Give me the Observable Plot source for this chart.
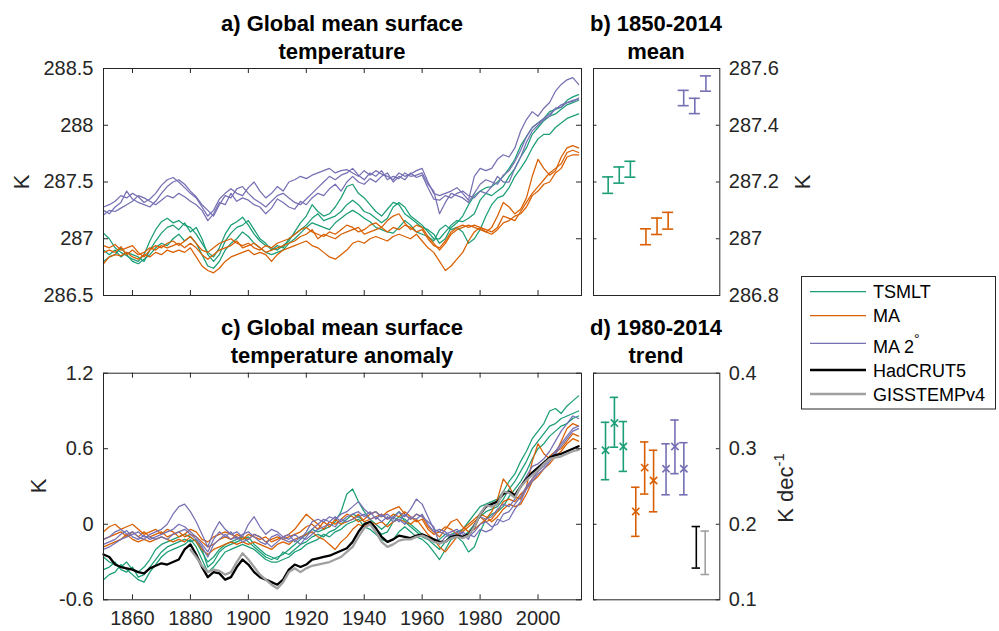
<!DOCTYPE html>
<html>
<head>
<meta charset="utf-8">
<script src="https://cdn.jsdelivr.net/npm/d3@7"></script>
<script src="https://cdn.jsdelivr.net/npm/@observablehq/plot@0.6"></script>
<style>
  body { margin: 0; background: #fff; }
  #root { position: relative; width: 999px; height: 631px; overflow: hidden; background: #fff; }
  .panel { position: absolute; }
  .panel svg { display: block; }
</style>
</head>
<body>
<div id="root"></div>
<script>
// ---------------- DATA ----------------
const years = [
  1850,1852,1854,1856,1858,1860,1862,1864,1866,1868,
  1870,1872,1874,1876,1878,1880,1882,1884,1886,1888,
  1890,1892,1894,1896,1898,1900,1902,1904,1906,1908,
  1910,1912,1914,1916,1918,1920,1922,1924,1926,1928,
  1930,1932,1934,1936,1938,1940,1942,1944,1946,1948,
  1950,1952,1954,1956,1958,1960,1962,1964,1966,1968,
  1970,1972,1974,1976,1978,1980,1982,1984,1986,1988,
  1990,1992,1994,1996,1998,2000,2002,2004,2006,2008,
  2010,2012,2014];

const models = ["TSMLT", "MA", "MA 2°"];
const observations = ["HadCRUT5", "GISSTEMPv4"];
const xTicks = [1860, 1880, 1900, 1920, 1940, 1960, 1980, 2000];
const yTicksA = [286.5, 287, 287.5, 288, 288.5];
const yTicksB = [286.8, 287, 287.2, 287.4, 287.6];
const yTicksC = [-0.6, 0, 0.6, 1.2];
const yTicksD = [0.1, 0.2, 0.3, 0.4];

// a) Global mean surface temperature (K), three members per configuration
const tsmltAbs1 = [
  287.05,287.00,286.92,286.88,286.85,286.82,286.80,286.86,286.98,287.08,
  287.15,287.18,287.14,287.16,287.12,287.10,287.04,286.96,286.88,286.84,
  286.92,287.04,287.12,287.15,287.19,287.12,287.04,286.98,286.94,286.92,
  286.90,286.94,286.98,287.06,287.14,287.20,287.30,287.24,287.20,287.22,
  287.28,287.36,287.46,287.48,287.40,287.36,287.30,287.24,287.20,287.26,
  287.32,287.30,287.22,287.18,287.14,287.10,287.08,287.04,286.96,287.00,
  287.10,287.14,287.20,287.30,287.38,287.42,287.45,287.46,287.50,287.55,
  287.62,287.70,287.82,287.90,287.98,288.02,288.06,288.12,288.14,288.16,
  288.22,288.25,288.27];
const tsmltAbs2 = [
  286.90,286.86,286.90,286.84,286.88,286.86,286.84,286.80,286.90,286.98,
  287.05,287.10,287.12,287.08,287.14,287.06,287.10,287.00,286.86,286.80,
  286.86,286.98,287.05,287.10,287.12,287.16,287.08,287.00,286.96,286.90,
  286.94,286.92,287.00,287.04,287.08,287.12,287.18,287.22,287.16,287.18,
  287.20,287.24,287.30,287.34,287.30,287.24,287.22,287.18,287.14,287.18,
  287.28,287.32,287.28,287.20,287.16,287.12,287.06,287.00,287.00,287.06,
  287.12,287.16,287.15,287.18,287.22,287.34,287.40,287.38,287.42,287.46,
  287.55,287.62,287.72,287.80,287.92,287.98,288.04,288.08,288.10,288.14,
  288.18,288.20,288.22];
const tsmltAbs3 = [
  286.80,286.84,286.86,286.92,286.86,286.80,286.78,286.82,286.86,286.92,
  286.96,286.94,287.00,287.04,286.98,287.02,286.96,286.86,286.76,286.74,
  286.80,286.90,286.96,287.00,287.06,287.02,286.96,286.92,286.88,286.86,
  286.88,286.90,286.96,287.00,287.05,287.10,287.14,287.12,287.10,287.08,
  287.14,287.18,287.22,287.25,287.22,287.18,287.15,287.10,287.08,287.06,
  287.05,287.10,287.16,287.12,287.06,287.04,287.02,286.98,287.08,287.12,
  287.08,287.10,287.06,286.96,287.00,287.08,287.20,287.30,287.36,287.38,
  287.45,287.55,287.62,287.70,287.80,287.88,287.92,287.92,287.98,288.02,
  288.06,288.08,288.10];
const maAbs1 = [
  286.94,286.92,286.95,286.90,286.92,286.94,286.88,286.84,286.90,286.94,
  286.92,286.96,286.98,286.94,286.98,287.02,286.96,286.90,286.88,286.92,
  286.96,286.98,287.00,286.96,286.94,286.96,286.92,286.90,286.94,286.92,
  286.96,286.98,287.00,287.04,287.08,287.10,287.06,287.04,287.02,287.06,
  287.04,287.08,287.12,287.10,287.06,287.08,287.12,287.14,287.10,287.16,
  287.20,287.22,287.14,287.08,287.12,287.10,287.02,286.96,286.90,286.96,
  287.04,287.08,287.10,287.12,287.10,287.08,287.06,287.10,287.20,287.32,
  287.28,287.22,287.26,287.36,287.55,287.70,287.62,287.56,287.60,287.72,
  287.80,287.82,287.80];
const maAbs2 = [
  286.88,286.90,286.88,286.93,286.86,286.90,286.86,286.88,286.92,286.90,
  286.94,286.92,286.94,286.96,286.92,286.96,286.92,286.86,286.82,286.86,
  286.90,286.92,286.94,286.98,286.92,286.94,286.96,286.92,286.88,286.90,
  286.92,286.94,286.96,286.98,287.02,287.04,287.08,287.00,287.04,287.02,
  287.00,287.04,287.06,287.08,287.10,287.04,287.06,287.08,287.10,287.06,
  287.10,287.08,287.12,287.10,287.06,287.08,287.00,286.94,286.92,286.98,
  287.06,287.10,287.12,287.10,287.12,287.10,287.08,287.06,287.10,287.20,
  287.18,287.16,287.24,287.32,287.40,287.46,287.52,287.58,287.62,287.66,
  287.76,287.78,287.76];
const maAbs3 = [
  286.78,286.84,286.86,286.85,286.88,286.84,286.82,286.86,286.84,286.88,
  286.86,286.90,286.88,286.90,286.88,286.92,286.84,286.76,286.72,286.70,
  286.74,286.80,286.84,286.86,286.88,286.90,286.86,286.88,286.86,286.80,
  286.86,286.90,286.92,286.94,286.96,286.98,286.94,286.92,286.88,286.84,
  286.82,286.86,286.90,286.96,286.98,286.96,287.00,287.02,287.00,286.98,
  287.02,287.04,287.02,287.00,287.04,286.98,286.92,286.88,286.80,286.72,
  286.76,286.82,286.88,286.98,287.06,287.10,287.06,287.04,287.08,287.14,
  287.16,287.20,287.22,287.28,287.38,287.42,287.48,287.50,287.58,287.62,
  287.72,287.74,287.74];
const ma2Abs1 = [
  287.28,287.30,287.33,287.38,287.36,287.40,287.37,287.32,287.35,287.40,
  287.47,287.52,287.54,287.50,287.45,287.40,287.36,287.28,287.20,287.25,
  287.35,287.40,287.44,287.40,287.38,287.45,287.50,287.42,287.36,287.40,
  287.46,287.42,287.50,287.52,287.55,287.53,287.56,287.58,287.60,287.62,
  287.58,287.60,287.61,287.58,287.55,287.60,287.56,287.60,287.57,287.55,
  287.52,287.58,287.55,287.57,287.60,287.62,287.50,287.40,287.38,287.40,
  287.42,287.45,287.40,287.34,287.55,287.62,287.60,287.62,287.70,287.74,
  287.72,287.80,287.95,288.05,288.12,288.08,288.15,288.20,288.30,288.36,
  288.40,288.42,288.36];
const ma2Abs2 = [
  287.25,287.22,287.28,287.32,287.42,287.35,287.32,287.30,287.28,287.33,
  287.40,287.46,287.50,287.52,287.48,287.42,287.37,287.30,287.25,287.20,
  287.30,287.38,287.36,287.44,287.46,287.40,287.35,287.32,287.28,287.33,
  287.38,287.40,287.36,287.32,287.30,287.35,287.40,287.45,287.50,287.55,
  287.52,287.56,287.58,287.62,287.56,287.52,287.58,287.55,287.60,287.52,
  287.55,287.53,287.58,287.55,287.56,287.58,287.48,287.42,287.22,287.32,
  287.40,287.38,287.36,287.32,287.40,287.48,287.52,287.50,287.48,287.56,
  287.60,287.68,287.78,287.90,287.98,288.02,288.06,288.10,288.14,288.18,
  288.20,288.22,288.23];
const ma2Abs3 = [
  287.21,287.25,287.24,287.27,287.30,287.33,287.38,287.36,287.33,287.30,
  287.34,287.38,287.36,287.40,287.37,287.33,287.30,287.25,287.16,287.22,
  287.32,287.30,287.40,287.33,287.36,287.34,287.30,287.28,287.22,287.27,
  287.35,287.32,287.28,287.26,287.33,287.30,287.36,287.40,287.38,287.44,
  287.48,287.42,287.50,287.55,287.50,287.48,287.53,287.50,287.55,287.58,
  287.50,287.55,287.52,287.58,287.54,287.56,287.45,287.35,287.34,287.38,
  287.36,287.40,287.42,287.38,287.36,287.42,287.40,287.46,287.55,287.50,
  287.50,287.62,287.72,287.85,287.95,288.00,288.05,288.08,288.15,288.16,
  288.20,288.21,288.24];

// c) Global mean surface temperature anomaly (K)
const tsmltAnom1 = [
  -0.26,-0.30,-0.32,-0.34,-0.30,-0.36,-0.38,-0.34,-0.28,-0.20,
  -0.16,-0.14,-0.12,-0.10,-0.08,-0.10,-0.14,-0.22,-0.30,-0.26,
  -0.20,-0.16,-0.14,-0.12,-0.10,-0.14,-0.18,-0.22,-0.26,-0.28,
  -0.26,-0.24,-0.20,-0.16,-0.12,-0.08,-0.04,-0.06,-0.04,-0.02,
  0.02,0.10,0.24,0.28,0.18,0.10,0.04,0.00,-0.04,0.00,
  0.06,0.10,0.02,-0.02,-0.06,-0.10,-0.12,-0.16,-0.20,-0.14,
  -0.08,-0.06,-0.04,0.02,0.08,0.14,0.16,0.18,0.20,0.26,
  0.34,0.40,0.50,0.58,0.68,0.74,0.80,0.90,0.92,0.88,
  0.94,0.98,1.02];
const tsmltAnom2 = [
  -0.36,-0.34,-0.30,-0.36,-0.38,-0.34,-0.42,-0.40,-0.34,-0.28,
  -0.22,-0.18,-0.16,-0.14,-0.12,-0.14,-0.12,-0.20,-0.34,-0.30,
  -0.22,-0.18,-0.16,-0.14,-0.12,-0.10,-0.16,-0.20,-0.24,-0.26,
  -0.28,-0.22,-0.24,-0.20,-0.16,-0.14,-0.10,-0.08,-0.10,-0.06,
  -0.04,0.00,0.04,0.08,0.06,0.02,0.00,-0.04,-0.08,-0.06,
  0.02,0.06,0.04,0.00,-0.04,-0.08,-0.10,-0.14,-0.12,-0.08,
  -0.10,-0.08,-0.10,-0.06,0.00,0.06,0.10,0.12,0.14,0.20,
  0.28,0.34,0.42,0.50,0.60,0.66,0.72,0.78,0.80,0.84,
  0.86,0.88,0.90];
const tsmltAnom3 = [
  -0.44,-0.40,-0.38,-0.32,-0.36,-0.40,-0.44,-0.46,-0.38,-0.32,
  -0.26,-0.22,-0.20,-0.18,-0.16,-0.12,-0.18,-0.28,-0.38,-0.34,
  -0.28,-0.22,-0.20,-0.18,-0.16,-0.18,-0.20,-0.24,-0.28,-0.30,
  -0.30,-0.28,-0.26,-0.22,-0.20,-0.16,-0.14,-0.12,-0.08,-0.10,
  -0.06,-0.04,0.00,0.02,0.04,-0.02,-0.04,-0.08,-0.12,-0.14,
  -0.12,-0.06,-0.02,-0.06,-0.10,-0.12,-0.16,-0.22,-0.28,-0.20,
  -0.12,-0.10,-0.14,-0.22,-0.18,-0.06,0.04,0.08,0.10,0.14,
  0.22,0.28,0.34,0.42,0.52,0.60,0.64,0.70,0.74,0.78,
  0.80,0.84,0.86];
const maAnom1 = [
  -0.06,-0.02,0.00,-0.04,-0.02,0.00,-0.04,-0.08,-0.06,-0.04,
  -0.08,-0.04,-0.06,-0.10,-0.08,-0.04,-0.06,-0.12,-0.14,-0.10,
  -0.08,-0.06,-0.08,-0.10,-0.12,-0.08,-0.10,-0.12,-0.10,-0.14,
  -0.12,-0.10,-0.08,-0.04,0.02,0.08,0.04,0.00,-0.04,0.02,
  0.00,0.04,0.08,0.06,0.02,0.04,0.08,0.10,0.06,0.10,
  0.12,0.14,0.08,0.04,0.08,0.06,-0.02,-0.06,-0.10,-0.04,
  0.02,0.04,-0.02,-0.06,-0.04,0.00,0.04,0.10,0.20,0.36,
  0.30,0.22,0.20,0.30,0.50,0.64,0.56,0.52,0.56,0.66,
  0.76,0.80,0.78];
const maAnom2 = [
  -0.12,-0.10,-0.08,-0.06,-0.10,-0.06,-0.10,-0.06,-0.10,-0.08,
  -0.06,-0.10,-0.08,-0.06,-0.10,-0.08,-0.10,-0.14,-0.18,-0.16,
  -0.12,-0.10,-0.12,-0.08,-0.10,-0.12,-0.08,-0.10,-0.14,-0.12,
  -0.10,-0.12,-0.10,-0.08,-0.06,-0.02,0.00,-0.04,0.02,-0.02,
  0.04,0.00,0.02,0.04,0.08,0.02,0.04,0.06,0.08,0.04,
  0.08,0.06,0.10,0.06,0.02,0.04,-0.04,-0.08,-0.06,-0.02,
  -0.04,-0.08,-0.06,-0.02,0.02,0.06,0.02,0.04,0.10,0.18,
  0.20,0.18,0.24,0.28,0.36,0.42,0.48,0.54,0.58,0.60,
  0.66,0.72,0.70];
const maAnom3 = [
  -0.18,-0.16,-0.14,-0.12,-0.08,-0.12,-0.14,-0.12,-0.14,-0.12,
  -0.10,-0.12,-0.14,-0.12,-0.14,-0.10,-0.14,-0.20,-0.24,-0.20,
  -0.18,-0.16,-0.14,-0.16,-0.14,-0.16,-0.14,-0.16,-0.18,-0.20,
  -0.16,-0.14,-0.16,-0.12,-0.10,-0.08,-0.06,-0.10,-0.12,-0.16,
  -0.20,-0.14,-0.10,-0.04,0.00,-0.02,0.02,0.00,0.02,-0.02,
  0.02,0.04,0.02,0.00,0.04,-0.02,-0.08,-0.12,-0.18,-0.22,
  -0.16,-0.10,-0.04,0.00,0.04,0.08,0.06,0.02,0.06,0.12,
  0.16,0.14,0.16,0.24,0.34,0.38,0.44,0.48,0.54,0.58,
  0.64,0.68,0.66];
const ma2Anom1 = [
  -0.12,-0.10,-0.06,-0.04,-0.08,-0.06,-0.10,-0.12,-0.08,-0.06,
  -0.04,0.00,0.08,0.14,0.16,0.10,0.02,-0.08,-0.18,-0.06,
  0.02,-0.04,-0.08,-0.06,-0.10,0.00,0.06,-0.02,-0.08,-0.04,
  -0.06,-0.10,-0.12,-0.08,-0.12,-0.06,0.02,0.04,0.02,0.06,
  0.04,0.08,0.10,0.14,0.18,0.12,0.08,0.10,0.06,0.08,
  0.04,0.10,0.06,0.12,0.20,0.16,0.06,-0.04,-0.06,-0.08,
  -0.06,-0.04,-0.08,-0.12,0.00,0.06,0.04,0.06,0.12,0.16,
  0.14,0.20,0.30,0.38,0.46,0.48,0.52,0.58,0.66,0.74,
  0.80,0.86,0.84];
const ma2Anom2 = [
  -0.16,-0.14,-0.12,-0.08,-0.05,-0.10,-0.12,-0.09,-0.12,-0.10,
  -0.08,-0.06,-0.04,0.00,-0.02,-0.06,-0.10,-0.16,-0.22,-0.12,
  -0.06,-0.10,-0.06,-0.12,-0.08,-0.06,-0.10,-0.14,-0.16,-0.10,
  -0.08,-0.12,-0.14,-0.12,-0.16,-0.10,-0.04,0.00,0.04,0.02,
  0.06,0.02,0.06,0.08,0.10,0.06,0.10,0.04,0.08,0.04,
  0.06,0.02,0.08,0.04,0.08,0.06,0.02,-0.02,-0.16,-0.10,
  -0.08,-0.10,-0.06,-0.10,-0.06,0.00,0.02,-0.02,0.00,0.08,
  0.10,0.16,0.22,0.30,0.36,0.42,0.46,0.52,0.58,0.64,
  0.70,0.76,0.78];
const ma2Anom3 = [
  -0.20,-0.18,-0.15,-0.12,-0.10,-0.08,-0.06,-0.10,-0.10,-0.12,
  -0.10,-0.12,-0.08,-0.06,-0.04,-0.08,-0.12,-0.18,-0.26,-0.16,
  -0.12,-0.08,-0.12,-0.10,-0.14,-0.12,-0.08,-0.10,-0.14,-0.18,
  -0.14,-0.10,-0.08,-0.14,-0.10,-0.12,-0.08,-0.04,-0.02,0.00,
  -0.02,0.04,0.02,0.04,0.06,0.08,0.04,0.06,0.02,0.06,
  0.02,0.04,0.00,0.06,0.04,0.08,0.00,-0.06,-0.04,-0.06,
  -0.10,-0.06,-0.10,-0.08,-0.10,-0.04,-0.06,-0.04,0.04,0.02,
  0.04,0.12,0.18,0.28,0.34,0.40,0.44,0.50,0.56,0.62,
  0.68,0.74,0.76];
const hadcrut5 = [
  -0.24,-0.26,-0.32,-0.34,-0.35,-0.36,-0.38,-0.39,-0.35,-0.33,
  -0.31,-0.32,-0.30,-0.28,-0.20,-0.16,-0.24,-0.34,-0.42,-0.38,
  -0.39,-0.44,-0.42,-0.34,-0.28,-0.32,-0.38,-0.42,-0.44,-0.46,
  -0.48,-0.44,-0.36,-0.32,-0.34,-0.32,-0.28,-0.27,-0.26,-0.25,
  -0.23,-0.21,-0.19,-0.14,-0.06,0.00,0.02,-0.03,-0.10,-0.14,
  -0.12,-0.09,-0.10,-0.11,-0.09,-0.08,-0.10,-0.12,-0.14,-0.14,
  -0.10,-0.09,-0.10,-0.08,-0.02,0.08,0.14,0.16,0.18,0.24,
  0.26,0.23,0.30,0.36,0.41,0.45,0.49,0.53,0.55,0.56,
  0.58,0.60,0.62];
const gisstempv4 = [
  null,null,null,null,null,null,null,null,null,null,
  null,null,null,null,null,-0.20,-0.26,-0.33,-0.38,-0.36,
  -0.37,-0.40,-0.38,-0.30,-0.23,-0.28,-0.34,-0.40,-0.44,-0.48,
  -0.51,-0.46,-0.38,-0.35,-0.38,-0.35,-0.33,-0.32,-0.31,-0.30,
  -0.28,-0.26,-0.22,-0.18,-0.10,-0.03,0.00,-0.06,-0.14,-0.18,
  -0.16,-0.13,-0.12,-0.12,-0.10,-0.09,-0.11,-0.14,-0.15,-0.14,
  -0.11,-0.10,-0.11,-0.09,-0.02,0.08,0.15,0.14,0.16,0.26,
  0.25,0.21,0.30,0.35,0.39,0.43,0.48,0.52,0.53,0.54,
  0.56,0.58,0.59];

// b) 1850-2014 mean (K): lower / upper end of each bar, members in model order
const meanLo = [287.160, 287.196, 287.217, 286.979, 287.015, 287.034, 287.469, 287.441, 287.520];
const meanHi = [287.218, 287.253, 287.273, 287.035, 287.073, 287.093, 287.523, 287.495, 287.574];

// d) 1980-2014 trend (K/decade)
const trendMid = [0.298, 0.334, 0.303, 0.217, 0.275, 0.258, 0.2735, 0.303, 0.2735];
const trendLo  = [0.259, 0.302, 0.270, 0.184, 0.240, 0.2165, 0.239, 0.267, 0.239];
const trendHi  = [0.335, 0.368, 0.336, 0.249, 0.309, 0.298, 0.3065, 0.338, 0.308];
const obsTrendLo = [0.142, 0.1335];
const obsTrendHi = [0.197, 0.191];

// ---------------- STYLE ----------------
const FONT = "'Liberation Sans', Arial, Helvetica, sans-serif";
const AX = "#262626";
const groupDomain = [...models, ...observations];
const groupRange = ["#1b9e77", "#d95f02", "#7570b3", "#000000", "#a0a0a0"];
const colorOf = Object.fromEntries(groupDomain.map((g, i) => [g, groupRange[i]]));
const groupGap = 3.4;

const absSeries = [
  ["TSMLT", tsmltAbs1], ["TSMLT", tsmltAbs2], ["TSMLT", tsmltAbs3],
  ["MA", maAbs1], ["MA", maAbs2], ["MA", maAbs3],
  ["MA 2°", ma2Abs1], ["MA 2°", ma2Abs2], ["MA 2°", ma2Abs3]
];
const anomSeries = [
  ["TSMLT", tsmltAnom1], ["TSMLT", tsmltAnom2], ["TSMLT", tsmltAnom3],
  ["MA", maAnom1], ["MA", maAnom2], ["MA", maAnom3],
  ["MA 2°", ma2Anom1], ["MA 2°", ma2Anom2], ["MA 2°", ma2Anom3]
];
function toRows(series) {
  return series.flatMap(([group, vals], k) =>
    years.map((year, i) => ({year, value: vals[i], series: group + k, group})));
}
const rowsA = toRows(absSeries);
const rowsC = toRows(anomSeries);
const rowsHad = years.map((year, i) => ({year, value: hadcrut5[i]}));
const rowsGiss = years.map((year, i) => ({year, value: gisstempv4[i]})).filter(d => d.value != null);

const colorScale = {domain: groupDomain, range: groupRange};
const svgStyle = {fontSize: "20px", fontFamily: FONT, color: AX, background: "transparent", overflow: "visible"};
const fmt = d => String(d);

function boxTicks(xDomain, yDomain, xT, yT, len) {
  const m = [];
  if (xT) {
    m.push(Plot.ruleX(xT, {x: d => d, y1: yDomain[0], y2: yDomain[0], insetTop: -len, stroke: AX}));
    m.push(Plot.ruleX(xT, {x: d => d, y1: yDomain[1], y2: yDomain[1], insetBottom: -len, stroke: AX}));
  }
  m.push(Plot.ruleY(yT, {y: d => d, x1: xDomain[0], x2: xDomain[0], insetRight: -len, stroke: AX}));
  m.push(Plot.ruleY(yT, {y: d => d, x1: xDomain[1], x2: xDomain[1], insetLeft: -len, stroke: AX}));
  return m;
}

const root = document.getElementById("root");
function place(node, left, top) {
  const div = document.createElement("div");
  div.className = "panel";
  div.style.left = left + "px";
  div.style.top = top + "px";
  div.appendChild(node);
  root.appendChild(div);
}

const xDomainT = [1850, 2015];

// Panel a
const yDomA = [286.5, 288.5];
place(Plot.plot({
  width: 600, height: 250,
  marginLeft: 103, marginRight: 19, marginTop: 8, marginBottom: 15,
  style: svgStyle,
  x: {domain: xDomainT, axis: null},
  y: {domain: yDomA},
  color: colorScale,
  marks: [
    Plot.line(rowsA, {x: "year", y: "value", z: "series", stroke: "group", strokeWidth: 1.25}),
    Plot.frame({stroke: AX, strokeWidth: 1}),
    ...boxTicks(xDomainT, yDomA, xTicks, yTicksA, 5),
    Plot.axisY({ticks: yTicksA, tickSize: 0, tickPadding: 10, tickFormat: fmt, label: null})
  ]
}), 0, 60);

// Panel c
const yDomC = [-0.6, 1.2];
place(Plot.plot({
  width: 600, height: 267,
  marginLeft: 103, marginRight: 19, marginTop: 8.7, marginBottom: 31.7,
  style: svgStyle,
  x: {domain: xDomainT},
  y: {domain: yDomC},
  color: colorScale,
  marks: [
    Plot.line(rowsC, {x: "year", y: "value", z: "series", stroke: "group", strokeWidth: 1.25}),
    Plot.line(rowsHad, {x: "year", y: "value", stroke: colorOf["HadCRUT5"], strokeWidth: 2.3}),
    Plot.line(rowsGiss, {x: "year", y: "value", stroke: colorOf["GISSTEMPv4"], strokeWidth: 2.3}),
    Plot.frame({stroke: AX, strokeWidth: 1}),
    ...boxTicks(xDomainT, yDomC, xTicks, yTicksC, 5),
    Plot.axisY({ticks: yTicksC, tickSize: 0, tickPadding: 10, tickFormat: fmt, label: null}),
    Plot.axisX({ticks: xTicks, tickSize: 0, tickPadding: 11, tickFormat: fmt, label: null})
  ]
}), 0, 364);

// Panel b
const memberPos = i => (i % 3) + Math.floor(i / 3) * groupGap;
const meanRows = meanLo.map((lo, i) => ({pos: memberPos(i), lo, hi: meanHi[i], group: models[Math.floor(i / 3)]}));
function errorBars(rows, cap) {
  return [
    Plot.ruleX(rows, {x: "pos", y1: "lo", y2: "hi", stroke: "group", strokeWidth: 1.6}),
    Plot.ruleY(rows, {y: "lo", x1: "pos", x2: "pos", insetLeft: -cap, insetRight: -cap, stroke: "group", strokeWidth: 1.6}),
    Plot.ruleY(rows, {y: "hi", x1: "pos", x2: "pos", insetLeft: -cap, insetRight: -cap, stroke: "group", strokeWidth: 1.6})
  ];
}
const xDomB = [-1.32, 10.05];
const yDomB = [286.8, 287.6];
place(Plot.plot({
  width: 215, height: 250,
  marginLeft: 13, marginRight: 75.7, marginTop: 8, marginBottom: 15,
  style: svgStyle,
  x: {domain: xDomB, axis: null},
  y: {domain: yDomB},
  color: colorScale,
  marks: [
    ...errorBars(meanRows, 5.5),
    Plot.frame({stroke: AX, strokeWidth: 1}),
    ...boxTicks(xDomB, yDomB, null, yTicksB, 3.5),
    Plot.axisY({anchor: "right", ticks: yTicksB, tickSize: 0, tickPadding: 9, tickFormat: fmt, label: null})
  ]
}), 580, 60);

// Panel d
const trendRows = trendMid.map((mid, i) => ({pos: memberPos(i), mid, lo: trendLo[i], hi: trendHi[i], group: models[Math.floor(i / 3)]}));
const obsRows = observations.map((name, j) => ({pos: 3 * groupGap + j, lo: obsTrendLo[j], hi: obsTrendHi[j], group: name}));
const xDomD = [-1.35, 12.84];
const yDomD = [0.1, 0.4];
place(Plot.plot({
  width: 215, height: 267,
  marginLeft: 13, marginRight: 75.7, marginTop: 8.7, marginBottom: 31.7,
  style: svgStyle,
  x: {domain: xDomD, axis: null},
  y: {domain: yDomD},
  color: colorScale,
  marks: [
    ...errorBars(trendRows, 4.2),
    ...errorBars(obsRows, 4.2),
    Plot.dot(trendRows, {x: "pos", y: "mid", symbol: "times", r: 3.4, stroke: "group", strokeWidth: 1.6}),
    Plot.frame({stroke: AX, strokeWidth: 1}),
    ...boxTicks(xDomD, yDomD, null, yTicksD, 3.5),
    Plot.axisY({anchor: "right", ticks: yTicksD, tickSize: 0, tickPadding: 9, tickFormat: fmt, label: null})
  ]
}), 580, 364);

// Titles, axis labels and legend
const titles = [
  [342, 31, "a) Global mean surface"], [342, 59, "temperature"],
  [656, 31, "b) 1850-2014"], [656, 59, "mean"],
  [342, 335, "c) Global mean surface"], [342, 363, "temperature anomaly"],
  [656, 335, "d) 1980-2014"], [656, 363, "trend"]
];
const legendY = [291.7, 315.7, 343.3, 370, 394];
const legendTextY = [298.2, 322.2, 353, 376.5, 400.5];
const legendWidth = [1.3, 1.3, 1.3, 2.5, 2.5];
let legendSvg = `<rect x="801.5" y="276.5" width="194" height="132.5" fill="#fff" stroke="${AX}" stroke-width="1"/>`;
groupDomain.forEach((g, i) => {
  legendSvg += `<line x1="810" x2="866" y1="${legendY[i]}" y2="${legendY[i]}" stroke="${groupRange[i]}" stroke-width="${legendWidth[i]}"/>`;
  const label = g === "MA 2°" ? `MA 2<tspan font-size="14" dy="-9">°</tspan>` : g;
  legendSvg += `<text x="873" y="${legendTextY[i]}">${label}</text>`;
});

const overlay = document.createElementNS("http://www.w3.org/2000/svg", "svg");
overlay.setAttribute("width", 999);
overlay.setAttribute("height", 631);
overlay.style.position = "absolute";
overlay.style.left = "0px";
overlay.style.top = "0px";
overlay.style.pointerEvents = "none";
overlay.setAttribute("font-family", FONT);
overlay.innerHTML = `
<g font-weight="bold" font-size="22" fill="#000" text-anchor="middle">
  ${titles.map(([x, y, t]) => `<text x="${x}" y="${y}">${t}</text>`).join("")}
</g>
<g font-size="22" fill="${AX}" text-anchor="middle">
  <text transform="translate(29,182) rotate(-90)">K</text>
  <text transform="translate(45.5,486) rotate(-90)">K</text>
  <text transform="translate(809.7,182) rotate(-90)">K</text>
  <text transform="translate(793,488) rotate(-90)">K dec<tspan font-size="15" dy="-9">-1</tspan></text>
</g>
<g font-size="18" fill="#000">${legendSvg}</g>`;
root.appendChild(overlay);
</script>
</body>
</html>
